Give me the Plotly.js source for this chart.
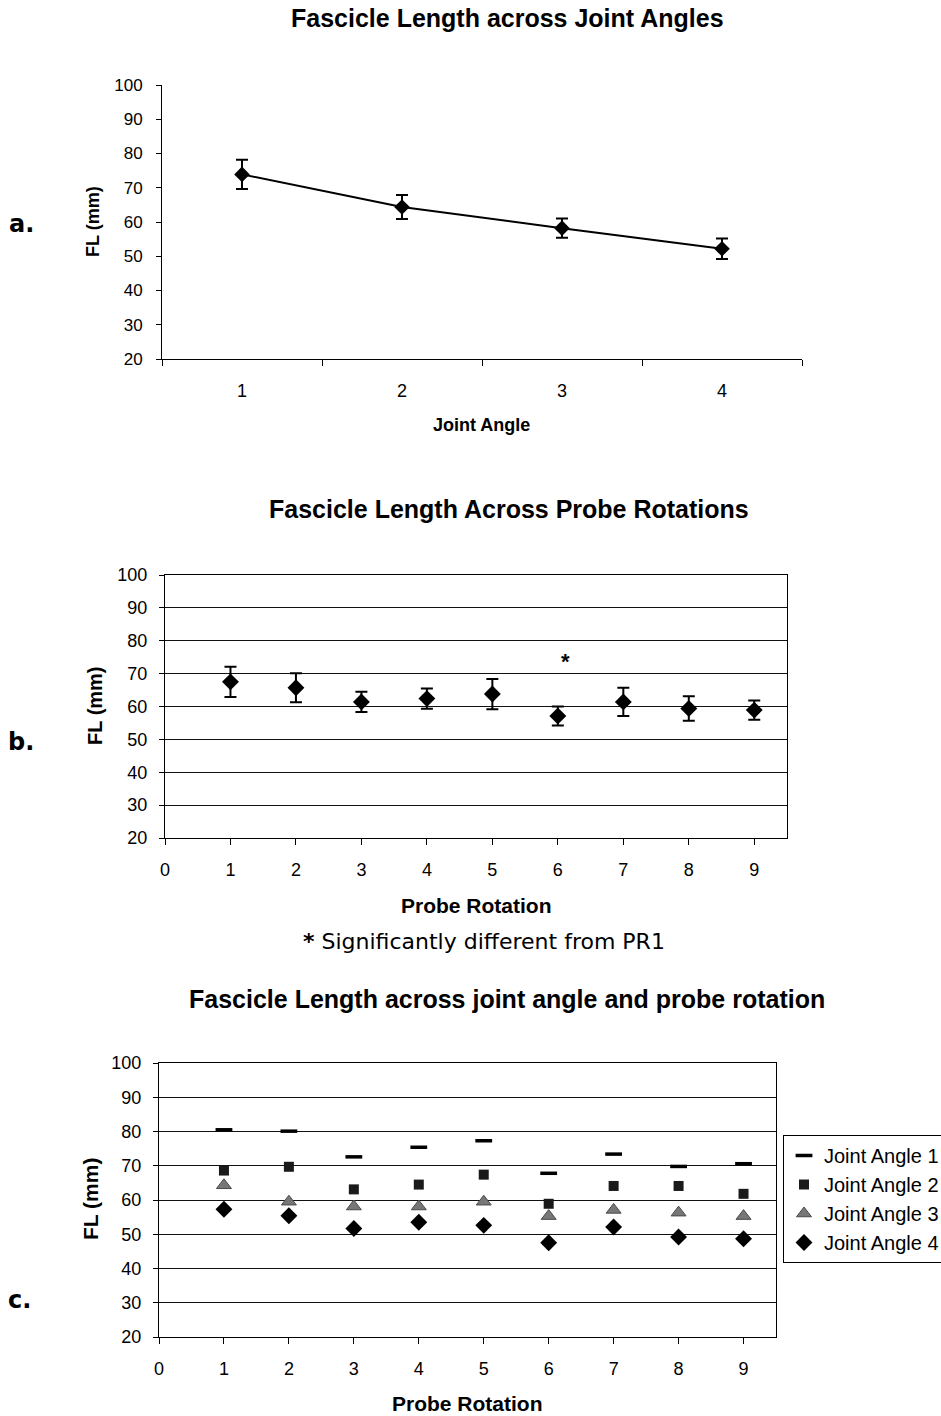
<!DOCTYPE html>
<html>
<head>
<meta charset="utf-8">
<script src="https://cdn.plot.ly/plotly-3.0.1.min.js"></script>
<style>html,body{margin:0;padding:0;background:#fff;}#chart{width:941px;height:1416px;}</style>
</head>
<body>
<div id="chart"></div>
<script>
// ---- Data ----
const jointAngles = ['1', '2', '3', '4'];
const flJoint = [73.9, 64.4, 58.2, 52.2];
const flJointErr = [4.3, 3.5, 2.8, 3.0];

const probeRotations = [1, 2, 3, 4, 5, 6, 7, 8, 9];
const flProbe = [67.5, 65.7, 61.4, 62.4, 63.8, 57.1, 61.4, 59.4, 58.9];
const flProbeErr = [4.6, 4.4, 3.1, 3.1, 4.6, 2.9, 4.3, 3.7, 2.9];

const seriesNames = ['Joint Angle 1', 'Joint Angle 2', 'Joint Angle 3', 'Joint Angle 4'];
const ja1 = [80.5, 80.1, 72.6, 75.4, 77.3, 67.8, 73.4, 69.8, 70.6];
const ja2 = [68.6, 69.7, 63.1, 64.5, 67.4, 58.9, 64.1, 64.1, 61.8];
const ja3 = [64.3, 59.5, 58.1, 58.1, 59.5, 55.3, 57.1, 56.3, 55.3];
const ja4 = [57.3, 55.4, 51.7, 53.5, 52.6, 47.5, 52.1, 49.2, 48.7];

const yTicks = [20, 30, 40, 50, 60, 70, 80, 90, 100];
const xTicksProbe = [0, 1, 2, 3, 4, 5, 6, 7, 8, 9];

// ---- Helpers ----
const W = 941, H = 1416;
const px = v => v / W;
const py = v => 1 - v / H;
const FONT = 'Liberation Sans, Arial, sans-serif';
const tf = s => ({family: FONT, size: s, color: '#000'});

const errStyle = arr => ({type: 'data', array: arr, visible: true, color: '#000', thickness: 2, width: 6});

const traces = [
  {
    x: jointAngles, y: flJoint, xaxis: 'x', yaxis: 'y', type: 'scatter', mode: 'lines+markers',
    line: {color: '#000', width: 2},
    marker: {symbol: 'diamond', size: 12, color: '#000'},
    error_y: errStyle(flJointErr), showlegend: false
  },
  {
    x: probeRotations, y: flProbe, xaxis: 'x2', yaxis: 'y2', type: 'scatter', mode: 'markers',
    marker: {symbol: 'diamond', size: 13, color: '#000'},
    error_y: errStyle(flProbeErr), showlegend: false
  },
  {
    x: probeRotations, y: ja1, xaxis: 'x3', yaxis: 'y3', type: 'scatter', mode: 'markers', name: seriesNames[0],
    marker: {symbol: 'line-ew', size: 12, color: '#000', line: {color: '#000', width: 3.5}}
  },
  {
    x: probeRotations, y: ja2, xaxis: 'x3', yaxis: 'y3', type: 'scatter', mode: 'markers', name: seriesNames[1],
    marker: {symbol: 'square', size: 10, color: '#1a1a1a'}
  },
  {
    x: probeRotations, y: ja3, xaxis: 'x3', yaxis: 'y3', type: 'scatter', mode: 'markers', name: seriesNames[2],
    marker: {symbol: 'triangle-up', size: 13, color: '#777', line: {color: '#4a4a4a', width: 1}}
  },
  {
    x: probeRotations, y: ja4, xaxis: 'x3', yaxis: 'y3', type: 'scatter', mode: 'markers', name: seriesNames[3],
    marker: {symbol: 'diamond', size: 13, color: '#000'}
  }
];

const yCommon = {
  range: [20, 100], tickvals: yTicks, ticks: 'outside', ticklen: 5, tickcolor: '#000',
  showline: true, linecolor: '#000', linewidth: 1, zeroline: false, fixedrange: true
};

const ann = (text, x, y, size, extra) => Object.assign({
  text: text, xref: 'paper', yref: 'paper', x: px(x), y: py(y), xanchor: 'center', yanchor: 'middle',
  showarrow: false, font: {family: FONT, size: size, color: '#000'}
}, extra || {});

const layout = {
  width: W, height: H,
  margin: {l: 0, r: 0, t: 0, b: 0, autoexpand: false},
  paper_bgcolor: '#fff', plot_bgcolor: '#fff',
  font: {family: FONT, color: '#000'},
  showlegend: true,
  legend: {
    x: px(783), y: py(1135), xanchor: 'left', yanchor: 'top',
    bordercolor: '#000', borderwidth: 1, bgcolor: '#fff',
    font: {family: FONT, size: 20, color: '#000'}, itemwidth: 30
  },
  // Chart a
  xaxis: {
    domain: [px(162), px(802)], anchor: 'y', type: 'category', tickson: 'boundaries', range: [-0.5, 3.5],
    ticks: 'outside', ticklen: 6, tickcolor: '#000', showline: true, linecolor: '#000',
    showgrid: false, tickfont: tf(18), ticklabelstandoff: 15, fixedrange: true
  },
  yaxis: Object.assign({}, yCommon, {domain: [py(359), py(85)], anchor: 'x', showgrid: false,
    tickfont: tf(17), ticklabelstandoff: 10}),
  // Chart b
  xaxis2: {
    domain: [px(165), px(787)], anchor: 'y2', range: [0, 9.5], tickvals: xTicksProbe,
    ticks: 'outside', ticklen: 6, tickcolor: '#000', showline: true, mirror: true, linecolor: '#000',
    showgrid: false, zeroline: false, tickfont: tf(18), ticklabelstandoff: 9, fixedrange: true
  },
  yaxis2: Object.assign({}, yCommon, {domain: [py(838), py(575)], anchor: 'x2', mirror: true,
    showgrid: true, gridcolor: '#111', gridwidth: 1, tickfont: tf(18), ticklabelstandoff: 8}),
  // Chart c
  xaxis3: {
    domain: [px(159), px(776)], anchor: 'y3', range: [0, 9.5], tickvals: xTicksProbe,
    ticks: 'outside', ticklen: 6, tickcolor: '#000', showline: true, mirror: true, linecolor: '#000',
    showgrid: false, zeroline: false, tickfont: tf(18), ticklabelstandoff: 9, fixedrange: true
  },
  yaxis3: Object.assign({}, yCommon, {domain: [py(1337), py(1063)], anchor: 'x3', mirror: true,
    showgrid: true, gridcolor: '#111', gridwidth: 1, tickfont: tf(18), ticklabelstandoff: 8}),
  annotations: [
    // Titles
    ann('<b>Fascicle Length across Joint Angles</b>', 508, 18, 25),
    ann('<b>Fascicle Length Across Probe Rotations</b>', 509, 509, 25),
    ann('<b>Fascicle Length across joint angle and probe rotation</b>', 507, 999, 25),
    // Axis titles
    ann('<b>FL (mm)</b>', 93, 222, 18, {textangle: -90}),
    ann('<b>Joint Angle</b>', 481, 425, 18),
    ann('<b>FL (mm)</b>', 95, 706, 20, {textangle: -90}),
    ann('<b>Probe Rotation</b>', 476, 905, 21),
    ann('<b>FL (mm)</b>', 90, 1199, 21, {textangle: -90}),
    ann('<b>Probe Rotation</b>', 467, 1403, 21),
    // Panel letters
    ann('<b>a.</b>', 21, 224, 24, {font: {family: 'DejaVu Sans, sans-serif', size: 24, color: '#000'}}),
    ann('<b>b.</b>', 21, 742, 24, {font: {family: 'DejaVu Sans, sans-serif', size: 24, color: '#000'}}),
    ann('<b>c.</b>', 19, 1300, 24, {font: {family: 'DejaVu Sans, sans-serif', size: 24, color: '#000'}}),
    // Significance marker and footnote
    {text: '<b>*</b>', xref: 'x2', yref: 'y2', x: 6.12, y: 73.8, xanchor: 'center', yanchor: 'middle',
     showarrow: false, font: {family: FONT, size: 22, color: '#000'}},
    ann('<b>*</b> Significantly different from PR1', 484, 941, 22,
      {font: {family: 'DejaVu Sans, sans-serif', size: 22, color: '#000'}})
  ]
};

Plotly.newPlot('chart', traces, layout, {displayModeBar: false, staticPlot: true});
</script>
</body>
</html>
